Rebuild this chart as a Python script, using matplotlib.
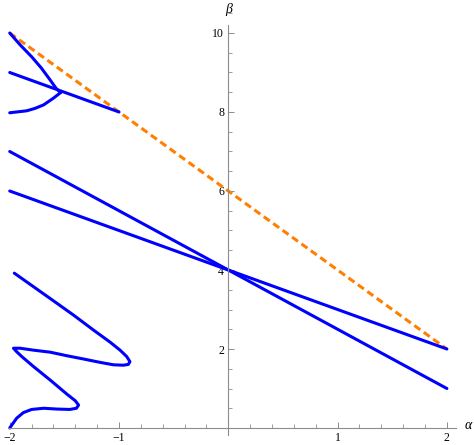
import matplotlib.pyplot as plt
from matplotlib.ticker import MultipleLocator, FixedLocator

# straight branches (endpoints)
line_a_x = [-2, -1]
line_a_y = [9, 8]
line_b_x = [-2, 2]
line_b_y = [7, 1]
line_c_x = [-2, 2]
line_c_y = [6, 2]
bound_x = [-2, 2]
bound_y = [10, 2]

# cusp near the top left
upper_x = [-2.0, -1.905, -1.80, -1.71, -1.63, -1.576, -1.535]
upper_y = [10.0, 9.70, 9.40, 9.11, 8.81, 8.60, 8.49]
lower_x = [-2.0, -1.845, -1.77, -1.69, -1.60, -1.535]
lower_y = [7.98, 8.03, 8.09, 8.18, 8.35, 8.49]

# wiggly branch bottom left
wig_x = [-1.958, -1.784, -1.60, -1.417, -1.234, -1.08, -0.99, -0.93, -0.90, -0.915,
         -0.96, -1.05, -1.17, -1.33, -1.478, -1.63, -1.78, -1.905, -1.966, -1.936,
         -1.89, -1.78, -1.63, -1.478, -1.40, -1.37, -1.39, -1.45, -1.57, -1.69,
         -1.80, -1.875, -1.936, -1.98, -2.0]
wig_y = [3.92, 3.58, 3.22, 2.86, 2.48, 2.17, 1.97, 1.81, 1.68, 1.61,
         1.59, 1.60, 1.66, 1.75, 1.83, 1.92, 1.97, 2.02, 2.02, 1.93,
         1.81, 1.55, 1.215, 0.86, 0.69, 0.58, 0.50, 0.47, 0.48, 0.50,
         0.47, 0.39, 0.25, 0.08, 0.0]

blue = (0, 0, 1)
orange = (1, 0.5, 0)
gray = '#8c8c8c'

fig = plt.figure(figsize=(4.74, 4.45), dpi=100)
ax = fig.add_axes([0, 0, 1, 1])
ax.set_xlim(-2.089, 2.248)
ax.set_ylim(-0.43, 10.835)

ax.plot(bound_x, bound_y, color=orange, lw=2.2, linestyle=(0, (2.4, 1.4)),
        solid_capstyle='butt', dash_capstyle='butt')
for xs, ys in [(line_a_x, line_a_y), (line_b_x, line_b_y), (line_c_x, line_c_y),
               (upper_x, upper_y), (lower_x, lower_y), (wig_x, wig_y)]:
    ax.plot(xs, ys, color=blue, lw=2.2, solid_joinstyle='round', solid_capstyle='round')

# mathematica style axes through the origin
for s in ['top', 'right']:
    ax.spines[s].set_visible(False)
ax.spines['left'].set_position(('data', 0))
ax.spines['bottom'].set_position(('data', 0))
ax.spines['left'].set_bounds(-0.18, 10.19)
ax.spines['bottom'].set_bounds(-2.015, 2.083)
for s in ['left', 'bottom']:
    ax.spines[s].set_color(gray)
    ax.spines[s].set_linewidth(0.8)

ax.xaxis.set_major_locator(FixedLocator([-2, -1, 1, 2]))
ax.yaxis.set_major_locator(FixedLocator([2, 4, 6, 8, 10]))
ax.xaxis.set_minor_locator(MultipleLocator(0.2))
ax.yaxis.set_minor_locator(MultipleLocator(0.5))
ax.set_xticklabels(['\u22122', '\u22121', '1', '2'])
ax.set_yticklabels(['2', '4', '6', '8', '10'])
ax.tick_params(which='major', direction='in', length=4.5, width=0.7, color=gray,
               labelsize=8.5, pad=3)
ax.tick_params(which='minor', direction='in', length=2.8, width=0.6, color=gray)
for lab in ax.get_xticklabels() + ax.get_yticklabels():
    lab.set_family('Liberation Serif')

ax.text(2.195, 0.07, '\u03b1', family='Liberation Serif', style='italic',
        fontsize=10, ha='center', va='center')
ax.text(0.0, 10.6, '\u03b2', family='Liberation Serif', style='italic',
        fontsize=10, ha='center', va='center')

fig.savefig('out.png', dpi=100)
